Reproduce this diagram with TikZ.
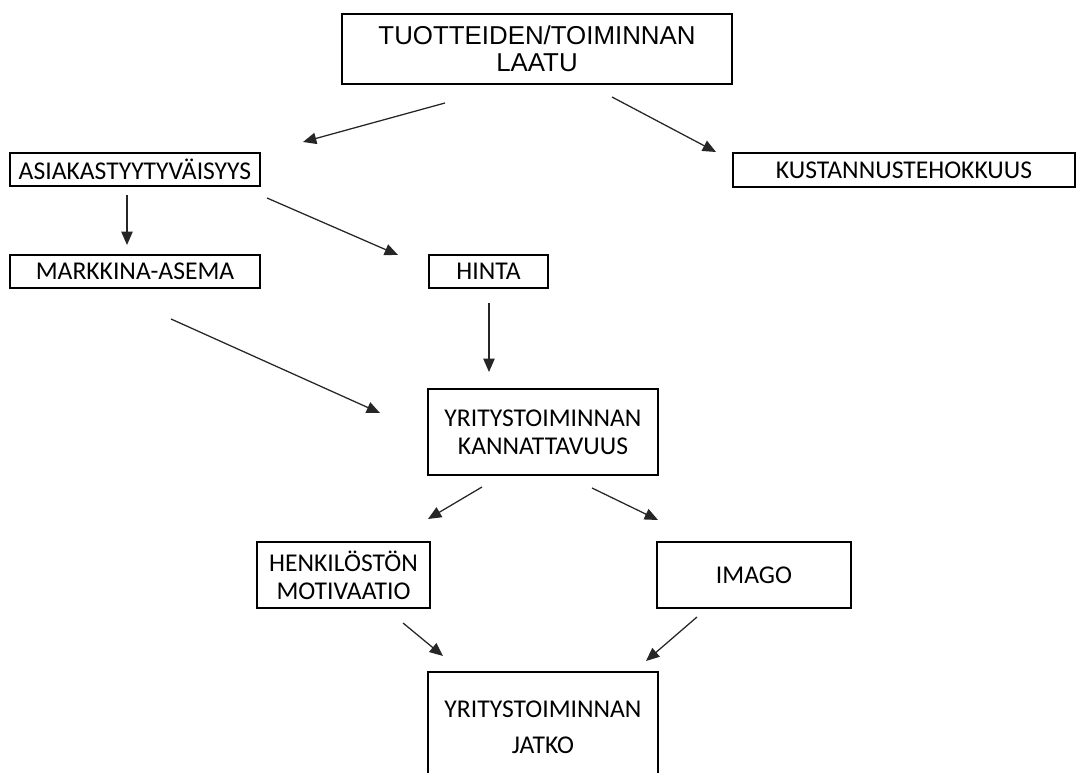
\documentclass[tikz,border=0pt]{standalone}
\usepackage{fontspec}
\setmainfont{Carlito}
\newfontfamily\arialfont{Liberation Sans}
\usetikzlibrary{arrows.meta}

\begin{document}
\begin{tikzpicture}[
    x=0.75pt, y=-0.75pt,
    box/.style={draw=black, line width=1.6pt, inner sep=0pt, align=center,
                font=\fontsize{19.2}{21}\selectfont},
    topbox/.style={box, line width=2.2pt,
                   font=\arialfont\fontsize{19.4}{20.5}\selectfont},
    arr/.style={-{Triangle[length=10pt, width=8.5pt]}, line width=0.95pt,
                black!85},
]

% ===================== Kehys =====================
\clip (0,0) rectangle (1076,773);

% ===================== Laatikot =====================
\node[topbox, minimum width=292.5pt, minimum height=52.5pt] (laatu)
      at (537,49) {TUOTTEIDEN/TOIMINNAN\\LAATU};
\node[box, minimum width=187.5pt, minimum height=24.75pt] (asiakas)
      at (135,169.5) {ASIAKASTYYTYVÄISYYS};
\node[box, minimum width=256.5pt, minimum height=25.5pt] (kustannus)
      at (904,170) {KUSTANNUSTEHOKKUUS};
\node[box, minimum width=187.5pt, minimum height=24.75pt] (markkina)
      at (135,271.5) {MARKKINA-ASEMA};
\node[box, minimum width=89.25pt, minimum height=24.75pt] (hinta)
      at (488.5,271.5) {HINTA};
\node[box, minimum width=172.5pt, minimum height=64.5pt] (kannattavuus)
      at (543,432) {YRITYSTOIMINNAN\\KANNATTAVUUS};
\node[box, minimum width=129.75pt, minimum height=49.5pt] (motivaatio)
      at (343.5,575) {HENKILÖSTÖN\\MOTIVAATIO};
\node[box, minimum width=145.5pt, minimum height=49.5pt] (imago)
      at (754,575) {IMAGO};
\node[box, minimum width=172.5pt, minimum height=83.25pt,
      font=\fontsize{19.2}{27}\selectfont] (jatko)
      at (543,727.5) {YRITYSTOIMINNAN\\JATKO};

% ===================== Nuolten päät =====================
\coordinate (laatu-a) at (445,103);   \coordinate (asiakas-in) at (303,142);
\coordinate (laatu-k) at (612,97);    \coordinate (kust-in) at (716,152);
\coordinate (asiakas-m) at (127,195); \coordinate (markkina-in) at (127,245);
\coordinate (asiakas-h) at (267,198); \coordinate (hinta-in) at (398,255);
\coordinate (markkina-k) at (171,319); \coordinate (kann-in-l) at (380,413);
\coordinate (hinta-k) at (489,303);   \coordinate (kann-in-t) at (489,372);
\coordinate (kann-m) at (482,487);    \coordinate (motiv-in) at (428,519);
\coordinate (kann-i) at (592,488);    \coordinate (imago-in) at (658,520);
\coordinate (motiv-j) at (403,623);   \coordinate (jatko-in-l) at (443,656);
\coordinate (imago-j) at (697,617);   \coordinate (jatko-in-r) at (646,661);

% ===================== Nuolet =====================
\draw[arr] (laatu-a) -- (asiakas-in);
\draw[arr] (laatu-k) -- (kust-in);
\draw[arr] (asiakas-m) -- (markkina-in);
\draw[arr] (asiakas-h) -- (hinta-in);
\draw[arr] (markkina-k) -- (kann-in-l);
\draw[arr] (hinta-k) -- (kann-in-t);
\draw[arr] (kann-m) -- (motiv-in);
\draw[arr] (kann-i) -- (imago-in);
\draw[arr] (motiv-j) -- (jatko-in-l);
\draw[arr] (imago-j) -- (jatko-in-r);

\end{tikzpicture}
\end{document}
